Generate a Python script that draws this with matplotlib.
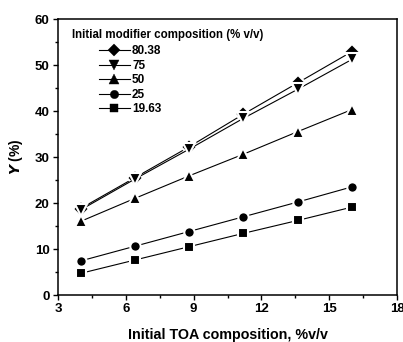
import matplotlib
matplotlib.use("Agg")
import matplotlib.pyplot as plt
from matplotlib.ticker import MultipleLocator
from matplotlib.lines import Line2D

plt.rcParams['font.family'] = ['Liberation Sans', 'DejaVu Sans']
plt.rcParams['font.weight'] = 'bold'

toa = [4.0, 6.4, 8.8, 11.2, 13.6, 16.0]
labels = ['80.38', '75', '50', '25', '19.63']
legend_title = 'Initial modifier composition (% v/v)'
y_8038 = [18.8, 25.5, 32.2, 39.3, 46.1, 52.9]
y_75 = [18.5, 25.2, 31.7, 38.4, 44.7, 51.2]
y_50 = [16.0, 21.0, 25.9, 30.6, 35.5, 40.3]
y_25 = [7.4, 10.6, 13.8, 17.0, 20.2, 23.5]
y_1963 = [4.7, 7.6, 10.5, 13.4, 16.2, 19.1]
series = [y_8038, y_75, y_50, y_25, y_1963]
markers = ['D', 'v', '^', 'o', 's']
msizes = [8.0, 8.5, 8.5, 7.5, 7.0]

W, H = 403, 342
fig = plt.figure(figsize=(W/100, H/100), dpi=100)
ax = fig.add_axes([58/W, 1-295/H, (397-58)/W, (295-19)/H])

for ys, m, ms in zip(series, markers, msizes):
    ax.plot(toa, ys, color='black', lw=0.8, marker=m, ms=ms,
            mfc='black', mec='white', mew=1.5, zorder=3)

ax.set_xlim(3, 18)
ax.set_ylim(0, 60)
ax.xaxis.set_major_locator(MultipleLocator(3))
ax.xaxis.set_minor_locator(MultipleLocator(1.5))
ax.yaxis.set_major_locator(MultipleLocator(10))
ax.yaxis.set_minor_locator(MultipleLocator(5))
ax.tick_params(which='major', direction='out', length=3.5, width=1, labelsize=9.5, pad=2.5)
ax.tick_params(which='minor', direction='out', length=2, width=1)
ax.tick_params(axis='x', which='both', top=False)
ax.tick_params(axis='y', which='both', right=False)
for s in ax.spines.values():
    s.set_linewidth(1.1)
for lab in ax.get_xticklabels() + ax.get_yticklabels():
    lab.set_fontweight('bold')

ax.set_xlabel('Initial TOA composition, %v/v', fontsize=10.3, fontweight='bold', labelpad=9)
ax.set_ylabel(r'$\mathbfit{Y}$ (%)', fontsize=10, fontweight='bold', labelpad=7)

fig.text(72/W, 1-35/H, legend_title, fontsize=8.3, fontweight='bold',
         ha='left', va='center')

handles = [Line2D([0], [0], color='black', lw=0.8, marker=m, ms=ms*0.8,
                  mfc='black', mec='black', mew=0.3) for m, ms in zip(markers, msizes)]
leg = fig.legend(handles, labels, loc='upper left',
                 bbox_to_anchor=(99/W, 1-45.5/H), frameon=False,
                 prop={'size': 8.5, 'weight': 'bold'}, handlelength=2.6,
                 handletextpad=0.2, labelspacing=0.21, borderpad=0, borderaxespad=0)

fig.savefig('out.png', dpi=100)
